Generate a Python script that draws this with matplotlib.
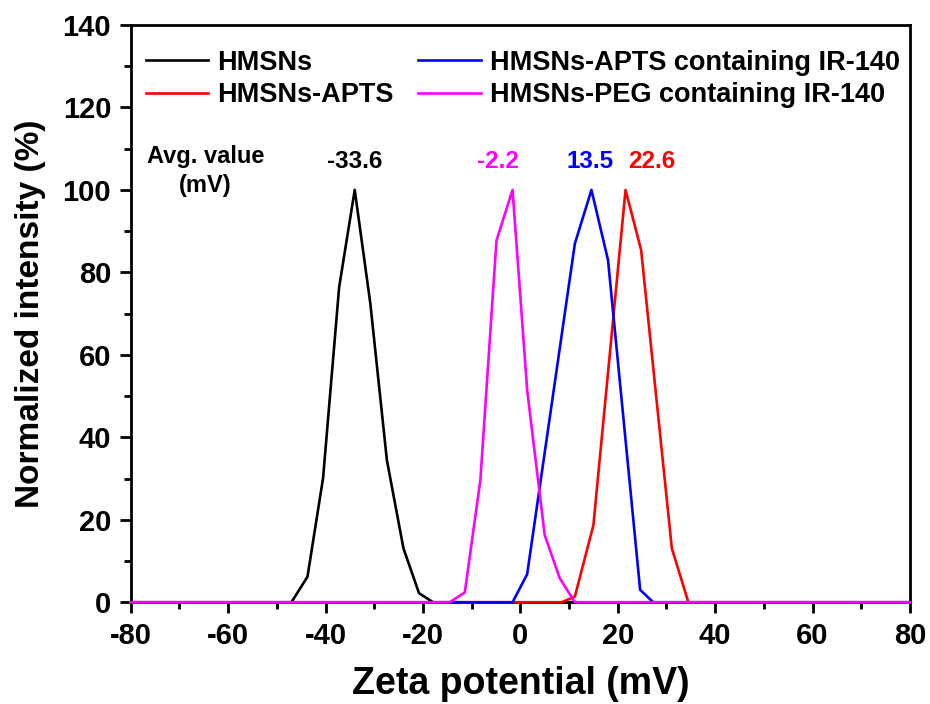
import numpy as np
import matplotlib
matplotlib.use("Agg")
import matplotlib.pyplot as plt
from matplotlib.ticker import MultipleLocator

plt.rcParams['font.family'] = ['Liberation Sans', 'DejaVu Sans']
plt.rcParams['font.weight'] = 'bold'
plt.rcParams['axes.unicode_minus'] = False

# zeta potential curves (mV, normalized intensity %)
hmsn_x = [-80, -47.0, -43.7, -40.5, -37.2, -34.0, -30.8, -27.4, -24.0, -20.8, -17.9, 80]
hmsn_y = [0, 0, 6.2, 30.1, 76.4, 100, 72.5, 34.5, 13.1, 2.2, 0, 0]

apts_x = [-80, 8.5, 11.2, 15.0, 21.6, 24.8, 31.1, 34.5, 80]
apts_y = [0, 0, 1.4, 18.7, 100, 85.4, 13.1, 0, 0]

apts_ir_x = [-80, -1.6, 1.4, 11.2, 14.6, 18.0, 24.6, 27.3, 80]
apts_ir_y = [0, 0, 6.8, 87.0, 100, 83.0, 3.0, 0, 0]

peg_ir_x = [-80, -14.5, -11.4, -8.2, -4.9, -1.6, 1.4, 5.0, 8.1, 11.2, 80]
peg_ir_y = [0, 0, 2.4, 29.7, 87.7, 100, 51.5, 16.3, 5.8, 0, 0]

labels = ['HMSNs', 'HMSNs-APTS', 'HMSNs-APTS containing IR-140', 'HMSNs-PEG containing IR-140']
colors = ['black', 'red', 'blue', 'magenta']
avg_vals = ['-33.6', '22.6', '13.5', '-2.2']
avg_pos = [-34.0, 27.0, 14.3, -4.6]

fig = plt.figure(figsize=(9.3, 7.04), dpi=100)
ax = fig.add_axes([0.1405, 0.1445, 0.838, 0.82])

series = [(hmsn_x, hmsn_y), (apts_x, apts_y), (apts_ir_x, apts_ir_y), (peg_ir_x, peg_ir_y)]
for (x, y), c, lab in zip(series, colors, labels):
    ax.plot(x, y, color=c, lw=1.9, label=lab, clip_on=False, zorder=3)

for v, p, c in zip(avg_vals, avg_pos, colors):
    ax.text(p, 106.8, v, color=c, fontsize=17.5, fontweight='bold', ha='center', va='center')
ax.text(-64.7, 104.6, 'Avg. value\n(mV)', fontsize=17, fontweight='bold',
        ha='center', va='center', linespacing=1.35)

ax.set_xlim(-80, 80)
ax.set_ylim(0, 140)
ax.xaxis.set_major_locator(MultipleLocator(20))
ax.xaxis.set_minor_locator(MultipleLocator(10))
ax.yaxis.set_major_locator(MultipleLocator(20))
ax.yaxis.set_minor_locator(MultipleLocator(10))
ax.tick_params(which='major', direction='out', length=8, width=2, labelsize=21, pad=6)
ax.tick_params(which='minor', direction='out', length=5, width=2)
for lab in ax.get_xticklabels() + ax.get_yticklabels():
    lab.set_fontweight('bold')
for s in ax.spines.values():
    s.set_linewidth(2)

ax.set_xlabel('Zeta potential (mV)', fontsize=27, fontweight='bold', labelpad=12)
ax.set_ylabel('Normalized intensity (%)', fontsize=24, fontweight='bold', labelpad=12)

leg = ax.legend(ncol=2, loc='upper left', bbox_to_anchor=(-0.005, 0.99), frameon=False,
                fontsize=19.5, handlelength=2.3, handletextpad=0.35, columnspacing=0.9,
                labelspacing=0.25, borderaxespad=0.3)
for t in leg.get_texts():
    t.set_fontweight('bold')

fig.savefig('out.png', dpi=100)
